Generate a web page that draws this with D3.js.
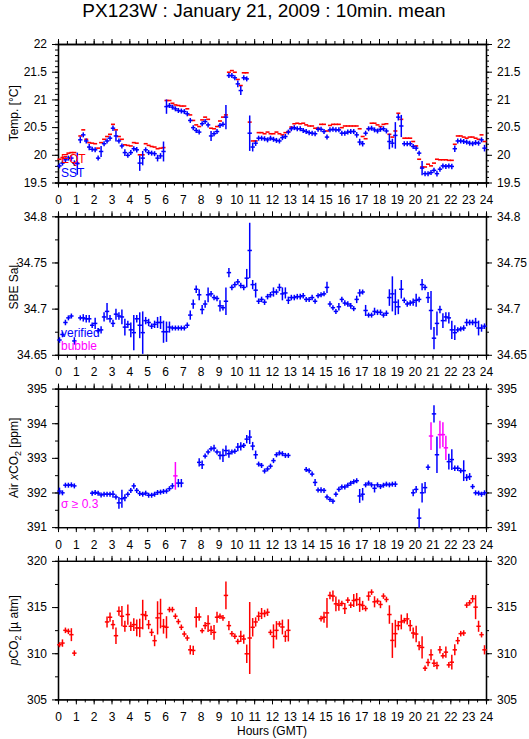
<!DOCTYPE html>
<html>
<head>
<meta charset="utf-8">
<script src="https://cdn.jsdelivr.net/npm/d3@7"></script>
<style>
  body { margin: 0; background: #fff; }
  svg { font-family: "Liberation Sans", Arial, sans-serif; }
  .axis path, .axis line { stroke: #000; }
  .axis text { font-size: 12px; fill: #000; }
</style>
</head>
<body>
<svg id="chart" width="529" height="739"></svg>
<script>
// time slot k -> 10 min mean centred at (k + 0.5) / 6 hours
// [slot, value, error]
var sstData = [
  [0,19.80,.03],[1,19.85,.03],[2,19.91,.03],[3,19.94,.03],[4,19.94,.06],[5,19.85,.05],[6,19.84,.2],[7,20.27,.06],
  [8,20.36,.04],[9,20.25,.04],[10,20.14,.06],[11,20.10,.03],[12,20.09,.04],[13,19.94,.03],[14,20.06,.1],[15,20.20,.03],
  [16,20.25,.03],[17,20.30,.03],[18,20.48,.05],[19,20.34,.1],[20,20.25,.03],[21,20.16,.04],[22,20.04,.06],[23,19.99,.03],
  [24,20.04,.04],[25,20.11,.04],[26,20.09,.05],[27,19.85,.14],[28,19.94,.13],[29,20.09,.03],[30,20.04,.03],[31,20.03,.03],
  [32,20.02,.03],[33,19.94,.06],[34,19.98,.05],[35,20.06,.18],[36,20.87,.13],[37,20.89,.02],[38,20.86,.02],[39,20.83,.02],
  [40,20.80,.02],[41,20.79,.02],[42,20.78,.02],[43,20.74,.03],[44,20.62,.04],[45,20.49,.04],[46,20.44,.02],[47,20.41,.02],
  [48,20.56,.03],[49,20.60,.02],[50,20.54,.02],[51,20.34,.09],[52,20.38,.03],[53,20.42,.02],[54,20.53,.03],[55,20.55,.03],
  [56,20.68,.22],[57,21.43,.04],[58,21.43,.02],[59,21.39,.02],[60,21.28,.06],[61,21.16,.08],[62,21.39,.03],[63,21.37,.04],
  [64,20.39,.32],[65,20.14,.08],[66,20.21,.05],[67,20.30,.02],[68,20.30,.02],[69,20.29,.02],
  [70,20.27,.02],[71,20.30,.02],[72,20.28,.02],[73,20.26,.04],[74,20.25,.02],[75,20.31,.02],[76,20.33,.02],[77,20.41,.03],
  [78,20.47,.02],[79,20.49,.02],[80,20.47,.02],[81,20.47,.02],[82,20.44,.02],[83,20.42,.02],[84,20.40,.02],[85,20.39,.02],
  [86,20.38,.02],[87,20.46,.02],[88,20.46,.02],[89,20.42,.02],[90,20.32,.03],[91,20.45,.02],[92,20.46,.02],[93,20.45,.02],
  [94,20.45,.02],[95,20.39,.02],[96,20.39,.02],[97,20.41,.02],[98,20.42,.02],[99,20.42,.02],[100,20.36,.05],[101,20.23,.06],
  [102,20.20,.05],[103,20.39,.04],[104,20.47,.02],[105,20.48,.02],[106,20.45,.02],[107,20.43,.02],[108,20.46,.02],[109,20.47,.03],
  [110,20.43,.03],[111,20.24,.14],[112,20.21,.08],[113,20.35,.24],[114,20.68,.06],[115,20.52,.2],[116,20.20,.02],[117,20.20,.02],
  [118,20.20,.02],[119,20.15,.03],[120,20.12,.03],[121,20.03,.04],[122,19.76,.13],[123,19.66,.03],[124,19.66,.02],[125,19.68,.02],
  [126,19.72,.03],[127,19.66,.05],[128,19.74,.04],[129,19.80,.02],[130,19.79,.02],[131,19.80,.02],[132,19.79,.05],[133,20.11,.06],
  [134,20.25,.02],[135,20.25,.02],[136,20.24,.02],[137,20.23,.02],[138,20.21,.02],[139,20.20,.02],[140,20.22,.02],[141,20.21,.02],
  [142,20.27,.02],[143,20.12,.06]
];

// [slot, value]
var eqtData = [
  [0,19.92],[1,19.95],[2,19.97],[3,20.03],[4,20.04],[5,20.04],[6,19.85],[7,20.34],[8,20.45],[9,20.28],[10,20.22],[11,20.21],
  [12,20.20],[13,20.12],[14,20.22],[15,20.28],[16,20.33],[17,20.37],[18,20.55],[19,20.45],[20,20.33],[21,20.28],[22,20.18],[23,20.17],
  [24,20.16],[25,20.22],[26,20.21],[27,20.00],[28,20.00],[29,20.20],[30,20.17],[31,20.15],[32,20.14],[33,20.11],[34,20.12],[35,20.13],
  [36,20.98],[37,20.98],[38,20.93],[39,20.90],[40,20.89],[41,20.88],[42,20.88],[43,20.83],[44,20.72],[45,20.62],[46,20.54],[47,20.51],
  [48,20.63],[49,20.68],[50,20.64],[51,20.48],[52,20.47],[53,20.51],[54,20.61],[55,20.68],[56,20.72],[57,21.49],[58,21.52],[59,21.49],
  [60,21.36],[61,21.25],[62,21.48],[63,21.48],[64,20.59],[65,20.25],[66,20.25],[67,20.40],[68,20.40],[69,20.38],
  [70,20.41],[71,20.38],[72,20.38],[73,20.41],[74,20.38],[75,20.36],[76,20.40],[77,20.42],[78,20.50],[79,20.56],[80,20.57],[81,20.56],
  [82,20.57],[83,20.54],[84,20.52],[85,20.52],[86,20.48],[87,20.48],[88,20.55],[89,20.55],[90,20.43],[91,20.53],[92,20.55],[93,20.55],
  [94,20.55],[95,20.49],[96,20.52],[97,20.52],[98,20.52],[99,20.52],[100,20.52],[101,20.47],[102,20.33],[103,20.29],[104,20.47],[105,20.57],
  [106,20.57],[107,20.54],[108,20.51],[109,20.55],[110,20.56],[111,20.37],[112,20.32],[113,20.43],[114,20.75],[115,20.64],[116,20.30],[117,20.30],
  [118,20.30],[119,20.24],[120,20.16],[121,19.92],[122,19.78],[123,19.78],[124,19.83],[125,19.80],[126,19.85],[127,19.92],[128,19.91],[129,19.91],
  [130,19.91],[131,19.90],[132,19.90],[133,20.19],[134,20.34],[135,20.34],[136,20.32],[137,20.30],[138,20.32],[139,20.32],[140,20.30],[141,20.28],
  [142,20.36],[143,20.24]
];

var salData = [
  [0,34.666,.003],[1,34.672,.003],[2,34.685,.003],[3,34.690,.002],[4,34.692,.002],[5,34.665,.004],[7,34.690,.002],[8,34.690,.004],
  [9,34.689,.004],[10,34.689,.004],[11,34.682,.003],[12,34.684,.006],[13,34.676,.003],[14,34.677,.004],[15,34.691,.005],[16,34.697,.009],
  [17,34.689,.004],[18,34.684,.004],[19,34.694,.006],[20,34.692,.004],[21,34.691,.008],[22,34.680,.009],[23,34.683,.004],[24,34.677,.008],
  [25,34.674,.019],[26,34.689,.004],[27,34.682,.014],[28,34.674,.023],[29,34.687,.004],[30,34.685,.004],[31,34.681,.003],[32,34.683,.004],
  [33,34.685,.006],[34,34.685,.007],[35,34.675,.012],[36,34.675,.011],[37,34.680,.006],[38,34.679,.002],[39,34.679,.002],[40,34.679,.002],
  [41,34.679,.002],[42,34.679,.002],[43,34.682,.003],[44,34.693,.005],[45,34.705,.005],[46,34.721,.004],[47,34.715,.006],[48,34.699,.005],
  [49,34.705,.004],[50,34.715,.008],[51,34.716,.003],[52,34.712,.003],[53,34.711,.003],[54,34.703,.006],[55,34.701,.003],[56,34.708,.015],
  [57,34.739,.005],[58,34.723,.003],[59,34.726,.003],[60,34.729,.003],[61,34.725,.003],[62,34.723,.003],[63,34.733,.01],[64,34.763,.03],
  [65,34.726,.005],[66,34.720,.008],[67,34.708,.003],[68,34.710,.003],[69,34.707,.003],[70,34.713,.003],
  [71,34.715,.003],[72,34.718,.005],[73,34.718,.003],[74,34.723,.004],[75,34.716,.007],[76,34.717,.006],[77,34.709,.004],[78,34.712,.003],
  [79,34.712,.003],[80,34.713,.003],[81,34.713,.003],[82,34.714,.003],[83,34.710,.002],[84,34.710,.002],[85,34.712,.003],[86,34.708,.002],
  [87,34.714,.002],[88,34.715,.002],[89,34.716,.002],[90,34.723,.006],[91,34.705,.003],[92,34.701,.002],[93,34.697,.002],[94,34.702,.004],
  [95,34.710,.003],[96,34.706,.003],[97,34.705,.003],[98,34.703,.003],[99,34.700,.002],[100,34.710,.004],[101,34.717,.004],[102,34.718,.002],
  [103,34.698,.006],[104,34.693,.002],[105,34.693,.002],[106,34.697,.004],[107,34.696,.003],[108,34.696,.003],[109,34.693,.002],[110,34.695,.003],
  [111,34.712,.009],[112,34.716,.019],[113,34.707,.014],[114,34.702,.008],[115,34.721,.01],[116,34.709,.003],[117,34.705,.003],[118,34.706,.003],
  [119,34.707,.004],[120,34.709,.007],[121,34.710,.003],[122,34.726,.006],[123,34.723,.003],[124,34.712,.006],[125,34.698,.021],[126,34.668,.012],
  [127,34.684,.013],[128,34.699,.004],[129,34.687,.008],[130,34.691,.005],[131,34.690,.006],[132,34.677,.01],[133,34.674,.008],[134,34.677,.002],
  [135,34.678,.002],[136,34.679,.003],[137,34.685,.004],[138,34.685,.003],[139,34.685,.003],[140,34.685,.005],[141,34.679,.008],[142,34.679,.004],
  [143,34.681,.003]
];

var airData = [
  [0,392.04,.1],[1,391.99,.04],[2,392.21,.06],[3,392.21,.04],[4,392.22,.03],[5,392.19,.03],
  [11,391.98,.03],[12,392.00,.04],[13,391.98,.03],[14,391.93,.03],[15,391.95,.03],[16,391.95,.04],[17,391.95,.04],[18,391.95,.1],
  [19,391.87,.06],[20,391.70,.17],[21,391.82,.26],[22,391.85,.1],[23,391.95,.06],[24,392.06,.06],[25,392.19,.08],[26,392.06,.03],
  [27,391.97,.04],[28,391.95,.04],[29,391.98,.03],[30,391.92,.04],[31,391.92,.03],[32,391.95,.03],[33,392.00,.05],[34,392.01,.03],
  [35,392.03,.03],[36,392.04,.05],[37,392.11,.07],[38,392.19,.08],[39,392.48,.4],[40,392.27,.12],[41,392.27,.12],
  [47,392.87,.12],[48,392.80,.12],[49,393.05,.06],[50,393.17,.05],[51,393.26,.06],[52,393.28,.1],[53,393.17,.06],[54,393.07,.12],
  [55,393.07,.19],[56,393.21,.15],[57,393.12,.12],[58,393.17,.05],[59,393.19,.06],[60,393.31,.12],[61,393.33,.12],[62,393.36,.06],
  [63,393.54,.12],[64,393.60,.2],[65,393.34,.12],[66,393.09,.12],[67,392.82,.06],[68,392.78,.06],[69,392.62,.05],[70,392.68,.05],
  [71,392.76,.05],[72,392.92,.05],[73,393.09,.05],[74,393.14,.03],[75,393.12,.03],[76,393.07,.03],[77,393.07,.03],
  [83,392.66,.03],[84,392.63,.03],[85,392.53,.05],[86,392.29,.1],[87,392.07,.04],[88,392.07,.08],[89,392.06,.06],[90,391.87,.04],
  [91,391.80,.03],[92,391.75,.04],[93,391.95,.06],[94,392.09,.03],[95,392.16,.03],[96,392.16,.03],[97,392.21,.03],[98,392.27,.04],
  [99,392.31,.03],[100,392.34,.05],[101,391.90,.2],[102,391.95,.18],[103,392.22,.06],[104,392.27,.04],[105,392.22,.03],[106,392.12,.12],
  [107,392.22,.04],[108,392.17,.03],[109,392.21,.03],[110,392.24,.03],[111,392.22,.04],[112,392.24,.03],[113,392.24,.08],
  [119,391.99,.1],[120,392.09,.1],[121,391.26,.28],[122,391.99,.28],[123,392.14,.16],[124,392.73,.08],[125,393.63,.4],[126,394.27,.25],
  [127,393.09,.53],[128,393.67,.4],[129,393.67,.36],[130,393.29,.35],[131,392.89,.23],[132,392.95,.3],[133,392.70,.08],[134,392.70,.08],
  [135,392.63,.05],[136,392.63,.3],[137,392.43,.1],[138,392.46,.1],[139,392.17,.05],[140,391.99,.05],[141,391.98,.05],[142,391.95,.04],
  [143,391.99,.05]
];
// slots flagged sigma >= 0.3 (magenta)
var airHighSigma = [39, 125, 128, 129, 130];

var pco2Data = [
  [0,310.92,.2],[1,311.10,.4],[2,312.48,.3],[3,312.37,.3],[4,312.01,.7],[5,310.01,.3],
  [16,313.39,.6],[17,313.90,.5],[18,313.10,.5],[19,311.90,.9],[20,314.55,.5],[21,314.01,1.1],[22,312.92,.6],[23,314.19,1.1],
  [24,312.92,.5],[25,313.10,.7],[26,312.74,.9],[27,312.74,1.0],[28,314.19,1.6],[29,314.08,.5],[30,313.10,.5],[31,312.26,.4],
  [32,311.36,.6],[33,313.83,1.8],[34,314.30,1.6],[35,312.92,.8],[36,312.81,1.2],[37,314.73,.3],[38,314.73,.3],[39,314.01,.3],
  [40,313.43,.3],[41,312.81,.3],[42,312.08,.3],[43,311.65,.3],[44,310.37,.5],[45,310.30,.5],[46,313.90,1.1],[47,313.93,.4],
  [48,312.44,.2],[49,312.99,.4],[50,313.21,.9],[51,312.48,.5],[52,312.26,.8],[53,313.90,.6],[54,314.01,.3],[55,313.83,.3],
  [56,316.26,1.5],[57,312.99,.5],[58,312.12,.3],[59,311.83,.3],[60,311.28,.3],[61,311.83,.6],[62,311.54,.5],[63,309.94,1.0],
  [64,311.65,3.9],[65,312.81,1.0],[66,313.39,.5],[67,314.01,.5],[68,314.30,.6],[69,314.30,.4],[70,314.44,.4],
  [71,312.26,.3],[72,311.83,1.3],[73,312.48,1.0],[74,313.17,.3],[75,312.84,.8],[76,311.83,.6],[77,312.48,1.2],
  [88,313.75,.3],[89,313.90,.6],[90,314.37,1.6],[91,316.26,.4],[92,316.19,.6],[93,315.35,.8],[94,315.21,.6],[95,315.39,.3],
  [96,314.84,.6],[97,315.75,.3],[98,315.21,.3],[99,315.71,.7],[100,315.82,.7],[101,315.28,.8],[102,315.17,.5],[103,314.84,.3],
  [104,316.19,.5],[105,316.62,.3],[106,315.57,.6],[107,315.64,.3],[108,315.28,.4],[109,316.19,.3],[110,315.82,.3],[111,314.19,1.0],
  [112,311.39,1.9],[113,312.12,1.5],[114,312.99,.5],[115,313.39,.8],[116,313.53,.3],[117,313.72,.6],[118,312.99,.6],[119,312.19,.6],
  [120,312.08,.9],[121,310.81,.5],[122,310.63,1.2],[123,308.38,.3],[124,309.00,.4],[125,309.83,.6],[126,308.92,.4],[127,308.67,.4],
  [128,310.37,.4],[129,309.72,.3],[130,310.12,.6],[131,308.74,.3],[132,309.03,.8],[133,310.37,.6],[134,311.36,.4],[135,312.12,.3],
  [136,312.19,.3],[137,315.21,.3],[138,315.46,.3],[139,315.90,.4],[140,314.99,1.3],[141,312.92,.6],[142,312.01,.3],[143,310.37,.5]
];

var hourTicks = d3.range(0, 25, 1);
var tempTicks = [19.5, 20, 20.5, 21, 21.5, 22];
var salTicks = [34.65, 34.7, 34.75, 34.8];
var airTicks = [391, 392, 393, 394, 395];
var pco2Ticks = [305, 310, 315, 320];

var svg = d3.select("#chart");
var left = 58, right = 486, panelH = 138.5, panelStep = 172.3, firstTop = 44;
var blue = "#0000ff", red = "#ff0000", magenta = "#ff00ff";

var x = d3.scaleLinear().domain([0, 24]).range([left, right]);
function slotX(k) { return x((k + 0.5) / 6); }

svg.append("text")
  .attr("x", 264).attr("y", 17)
  .attr("text-anchor", "middle")
  .style("font-size", "19px")
  .text("PX123W : January 21, 2009 : 10min. mean");

var panels = [
  {ticks: tempTicks, minor: 0.1, dom: [19.5, 22]},
  {ticks: salTicks, minor: 0.025, dom: [34.65, 34.8]},
  {ticks: airTicks, minor: 0.5, dom: [391, 395]},
  {ticks: pco2Ticks, minor: 2.5, dom: [305, 320]}
];

function fmt(d) { return String(+d.toFixed(3)); }

panels.forEach(function(p, i) {
  var top = firstTop + i * panelStep, bottom = top + panelH;
  p.y = d3.scaleLinear().domain(p.dom).range([bottom, top]);
  var g = svg.append("g");
  p.g = g;
  var minorY = d3.range(p.dom[0], p.dom[1] + p.minor / 2, p.minor);
  var minorX = d3.range(0, 24.01, 0.5);

  // minor ticks first
  g.append("g").attr("class", "axis").attr("transform", "translate(" + left + ",0)")
    .call(d3.axisLeft(p.y).tickValues(minorY).tickSize(3).tickFormat(""));
  g.append("g").attr("class", "axis").attr("transform", "translate(" + right + ",0)")
    .call(d3.axisRight(p.y).tickValues(minorY).tickSize(3).tickFormat(""));
  g.append("g").attr("class", "axis").attr("transform", "translate(0," + top + ")")
    .call(d3.axisTop(x).tickValues(minorX).tickSize(3).tickFormat(""));
  g.append("g").attr("class", "axis").attr("transform", "translate(0," + bottom + ")")
    .call(d3.axisBottom(x).tickValues(minorX).tickSize(3).tickFormat(""));

  // major ticks
  g.append("g").attr("class", "axis").attr("transform", "translate(" + left + ",0)")
    .call(d3.axisLeft(p.y).tickValues(p.ticks).tickSize(6).tickSizeOuter(0).tickPadding(5).tickFormat(fmt));
  g.append("g").attr("class", "axis").attr("transform", "translate(" + right + ",0)")
    .call(d3.axisRight(p.y).tickValues(p.ticks).tickSize(6).tickSizeOuter(0).tickPadding(5).tickFormat(fmt));
  g.append("g").attr("class", "axis").attr("transform", "translate(0," + top + ")")
    .call(d3.axisTop(x).tickValues(hourTicks).tickSize(5).tickSizeOuter(0).tickFormat(""));
  g.append("g").attr("class", "axis").attr("transform", "translate(0," + bottom + ")")
    .call(d3.axisBottom(x).tickValues(hourTicks).tickSize(5).tickSizeOuter(0).tickPadding(8));

  g.selectAll(".axis path").attr("stroke-width", 1.3);
});

// + markers with vertical error bars
function plus(g, data, y, color) {
  var m = g.append("g").attr("stroke-width", 1.5).attr("fill", "none");
  data.forEach(function(d) {
    var cx = slotX(d[0]), cy = y(d[1]);
    var c = typeof color === "function" ? color(d) : color;
    var e = Math.max(Math.abs(y(d[1] + d[2]) - cy), 2.5);
    m.append("line").attr("x1", cx).attr("x2", cx).attr("y1", cy - e).attr("y2", cy + e).attr("stroke", c);
    m.append("line").attr("x1", cx - 2.2).attr("x2", cx + 2.2).attr("y1", cy).attr("y2", cy).attr("stroke", c);
  });
}

// panel 1: EQT dashes and SST crosses
var p1 = panels[0];
p1.g.append("g").attr("stroke", red).attr("stroke-width", 1.6)
  .selectAll("line").data(eqtData).enter().append("line")
  .attr("x1", function(d) { return slotX(d[0]) - 2; })
  .attr("x2", function(d) { return slotX(d[0]) + 2; })
  .attr("y1", function(d) { return p1.y(d[1]); })
  .attr("y2", function(d) { return p1.y(d[1]); });
plus(p1.g, sstData, p1.y, blue);

plus(panels[1].g, salData, panels[1].y, blue);
plus(panels[2].g, airData, panels[2].y, function(d) {
  return airHighSigma.indexOf(d[0]) >= 0 ? magenta : blue;
});
plus(panels[3].g, pco2Data, panels[3].y, red);

// in-panel labels
function note(txt, xx, yy, color) {
  svg.append("text").attr("x", xx).attr("y", yy).attr("fill", color)
    .style("font-size", "12px").text(txt);
}
note("EQT", 61, 163, red);
note("SST", 61, 177, blue);
note("verified", 61, 337, blue);
note("bubble", 61, 350, magenta);
note("\u03c3 \u2265 0.3", 61, 508, magenta);

// y titles
function ytitle(i, build) {
  var top = firstTop + i * panelStep;
  var t = svg.append("text")
    .attr("transform", "translate(18," + (top + panelH / 2) + ") rotate(-90)")
    .attr("text-anchor", "middle")
    .style("font-size", "12px");
  build(t);
}
ytitle(0, function(t) { t.text("Temp. [\u00b0C]"); });
ytitle(1, function(t) { t.text("SBE Sal."); });
ytitle(2, function(t) {
  t.append("tspan").text("Air ");
  t.append("tspan").style("font-style", "italic").text("x");
  t.append("tspan").text("CO");
  t.append("tspan").attr("dy", 3).style("font-size", "9px").text("2");
  t.append("tspan").attr("dy", -3).text(" [ppm]");
});
ytitle(3, function(t) {
  t.append("tspan").style("font-style", "italic").text("p");
  t.append("tspan").text("CO");
  t.append("tspan").attr("dy", 3).style("font-size", "9px").text("2");
  t.append("tspan").attr("dy", -3).text(" [\u00b5 atm]");
});

svg.append("text")
  .attr("x", 272).attr("y", 735)
  .attr("text-anchor", "middle")
  .style("font-size", "12px")
  .text("Hours (GMT)");
</script>
</body>
</html>
